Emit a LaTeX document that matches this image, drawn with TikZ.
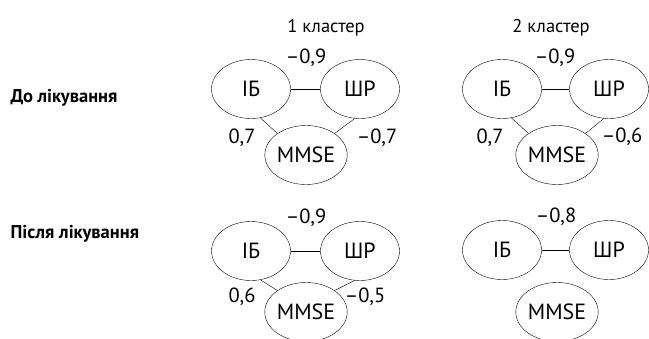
\documentclass[tikz,border=0pt]{standalone}
\usepackage{fontspec}
\setmainfont{PT Sans}
\usetikzlibrary{shapes.geometric}
\begin{document}
\begin{tikzpicture}
[
    x=1pt, y=-1pt,
    var/.style={draw, ellipse, inner sep=0pt, minimum width=79pt, minimum height=59pt, font=\fontsize{22}{26}\selectfont},
    coef/.style={anchor=base, font=\fontsize{20.5}{24}\selectfont},
    title/.style={anchor=base, font=\fontsize{18.5}{22}\selectfont},
    row/.style={anchor=base west, font=\fontsize{18.5}{22}\selectfont\bfseries}
]
    \useasboundingbox (0,0) rectangle (649,338);
    \node [title] (t1) at (326,32) {1 кластер};
    \node [title] (t2) at (551,32) {2 кластер};
    \node [row] (before) at (7,102) {До лікування};
    \node [row] (after) at (7,238) {Після лікування};

    \node [var] (ib1) at (251,89) {ІБ};
    \node [var] (shr1) at (360,89) {ШР};
    \node [var] (mmse1) at (306,155) {MMSE};
    \draw (ib1) -- (shr1);
    \draw (ib1.-72) -- (mmse1.143);
    \draw (shr1.-100) -- (mmse1.37);
    \node [coef] (c11) at (306,63) {–0,9};
    \node [coef] (c12) at (242,143) {0,7};
    \node [coef] (c13) at (377,143) {–0,7};

    \node [var] (ib2) at (502,89) {ІБ};
    \node [var] (shr2) at (609,89) {ШР};
    \node [var] (mmse2) at (557,155) {MMSE};
    \draw (ib2) -- (shr2);
    \draw (ib2.-72) -- (mmse2.143);
    \draw (shr2.-100) -- (mmse2.37);
    \node [coef] (c21) at (555,63) {–0,9};
    \node [coef] (c22) at (490,143) {0,7};
    \node [coef] (c23) at (622,142) {–0,6};

    \node [var] (ib3) at (251,251) {ІБ};
    \node [var] (shr3) at (360,251) {ШР};
    \node [var] (mmse3) at (306,312) {MMSE};
    \draw (ib3) -- (shr3);
    \draw (ib3.-72) -- (mmse3.143);
    \draw (shr3.-100) -- (mmse3.37);
    \node [coef] (c31) at (306,223) {–0,9};
    \node [coef] (c32) at (242,302) {0,6};
    \node [coef] (c33) at (365,302) {–0,5};

    \node [var] (ib4) at (502,250) {ІБ};
    \node [var] (shr4) at (609,250) {ШР};
    \node [var] (mmse4) at (557,312) {MMSE};
    \draw (ib4) -- (shr4);
    \node [coef] (c41) at (556,222) {–0,8};
\end{tikzpicture}
\end{document}
